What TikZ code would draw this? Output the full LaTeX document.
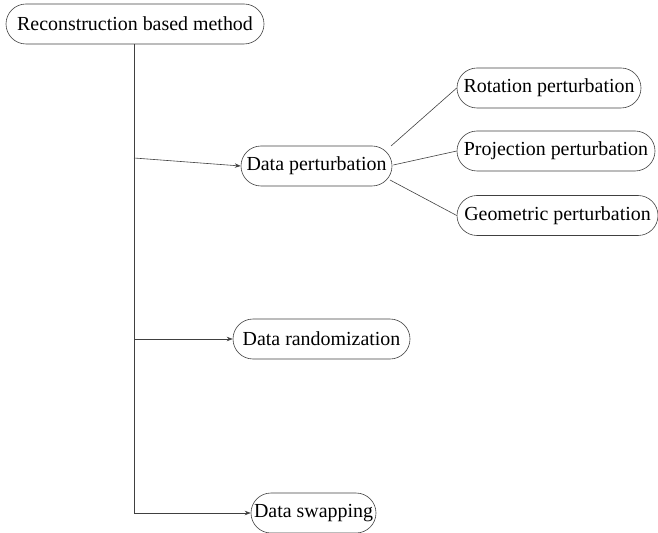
\documentclass[tikz,border=0pt]{standalone}
\usepackage{fontspec}
\setmainfont{Liberation Serif}
\usetikzlibrary{arrows.meta}
\begin{document}
\begin{tikzpicture}[x=1bp,y=-1bp,
  pill/.style={draw=black!75, line width=0.6pt, rounded corners=20bp,
    minimum height=40bp, inner sep=0pt, font=\fontsize{20}{24}\selectfont},
  link/.style={draw=black!75, line width=0.6pt},
  arr/.style={link, -{Stealth[length=6bp,width=4.5bp]}}]
\useasboundingbox (0,0) rectangle (658,533);
% root and first level
\node[pill, minimum width=258bp] (root) at (135,24) {Reconstruction based method};
\node[pill, minimum width=151bp] (pert) at (316.5,166) {Data perturbation};
\node[pill, minimum width=177bp] (rand) at (321.5,339) {Data randomization};
\node[pill, minimum width=125bp] (swap) at (313.5,513) {Data swapping};
% second level
\node[pill, minimum width=184bp] (rot) at (549,88) {Rotation perturbation};
\node[pill, minimum width=198bp] (proj) at (556,151) {Projection perturbation};
\node[pill, minimum width=201bp] (geo) at (557.5,215.5) {Geometric perturbation};
% trunk branch points
\coordinate (t1) at (134,158);
\coordinate (t2) at (134,339);
\coordinate (t3) at (134,513);
\draw[link] (root.south -| t1) -- (t3);
\draw[arr] (t1) -- (pert.west);
\draw[arr] (t2) -- (rand.west);
\draw[arr] (t3) -- (swap.west);
% sub-branches
\draw[link] (391,146) -- (rot.west);
\draw[link] (pert.east) ++(1,-1) -- (proj.west);
\draw[link] (390,180) -- (geo.west);
\end{tikzpicture}
\end{document}
